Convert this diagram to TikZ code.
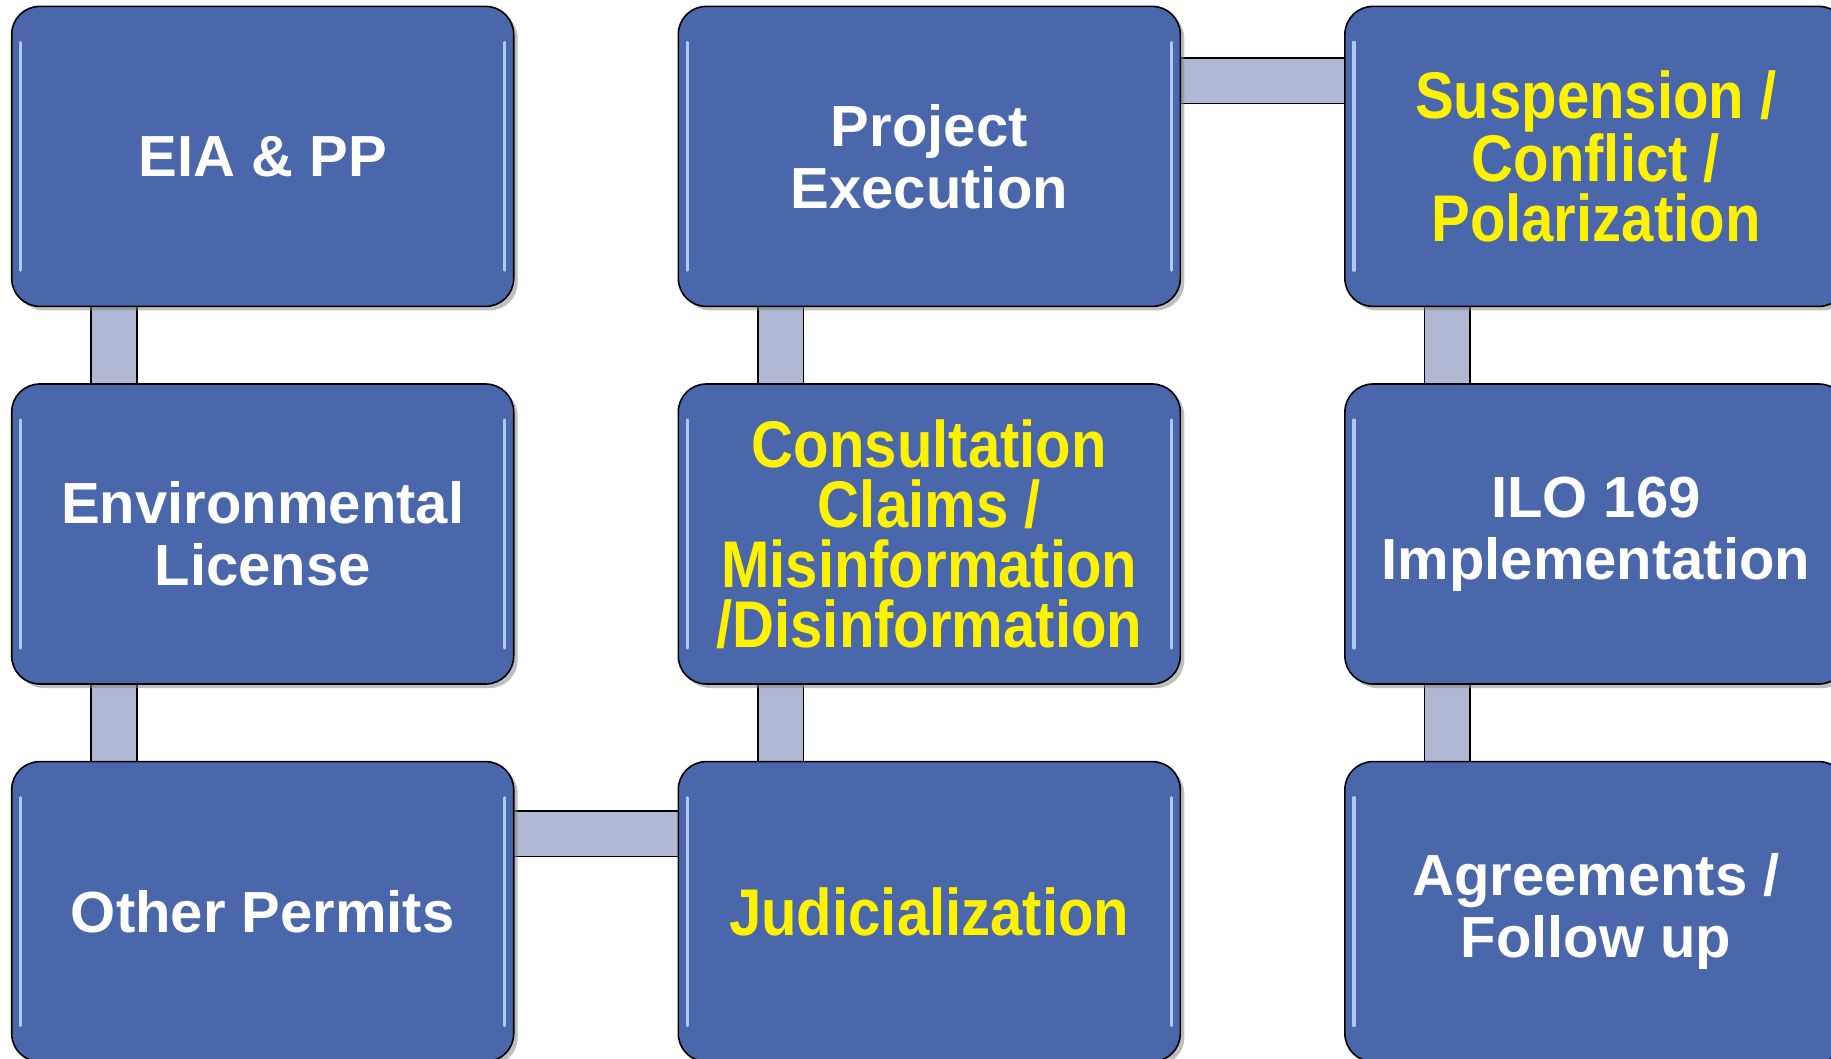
\documentclass[tikz,border=0pt]{standalone}
\usepackage{fontspec}
\setmainfont{Liberation Sans}
\newfontfamily\narrowfont{Liberation Sans}[FakeStretch=0.88]
\usetikzlibrary{positioning,shadows,backgrounds}
\definecolor{boxblue}{RGB}{73,103,170}
\definecolor{linkgray}{RGB}{176,184,212}
\definecolor{glossblue}{RGB}{178,200,242}

\begin{document}
\begin{tikzpicture}[x=0.5pt, y=-0.5pt,
    node distance=38pt and 81.5pt,
    stage/.style={rectangle, rounded corners=14pt, draw=black, line width=0.8pt,
        fill=boxblue, minimum width=251pt, minimum height=150pt, inner sep=0pt,
        align=center, text=white, font=\bfseries\fontsize{29}{31}\selectfont,
        drop shadow={shadow xshift=2pt, shadow yshift=-2pt, opacity=0.5},
        path picture={
            \draw[glossblue, line width=1.6pt, line cap=round]
                ([xshift=4.5pt,yshift=-18pt]path picture bounding box.north west) -- ([xshift=4.5pt,yshift=18pt]path picture bounding box.south west)
                ([xshift=-4.5pt,yshift=-18pt]path picture bounding box.north east) -- ([xshift=-4.5pt,yshift=18pt]path picture bounding box.south east);
        }},
    hot/.style={stage, text=yellow, font=\narrowfont\bfseries\fontsize{33}{30}\selectfont},
    link/.style={draw=black, line width=0.8pt, double=linkgray, double distance=22pt}]
    \useasboundingbox (0,0) rectangle (1831,1059);
    \node[stage] (eia) at (262.7,156.4) {EIA \& PP};
    \node[stage, below=of eia] (env) {Environmental\\License};
    \node[stage, below=of env] (other) {Other Permits};
    \node[stage, right=of eia] (exec) {Project\\Execution};
    \node[hot, below=of exec] (cons) {Consultation\\Claims /\\Misinformation\\/Disinformation};
    \node[hot, below=of cons] (jud) {Judicialization};
    \node[hot, right=of exec] (susp) {Suspension /\\Conflict /\\Polarization};
    \node[stage, below=of susp] (ilo) {ILO 169\\Implementation};
    \node[stage, below=of ilo] (agr) {Agreements /\\Follow up};
    \begin{scope}[on background layer]
        \draw[link] ([xshift=51.5pt]eia.south west) -- ([xshift=51.5pt]env.north west);
        \draw[link] ([xshift=51.5pt]env.south west) -- ([xshift=51.5pt]other.north west);
        \draw[link] ([yshift=-36.5pt]other.north east) -- ([yshift=-36.5pt]jud.north west);
        \draw[link] ([xshift=51.5pt]jud.north west) -- ([xshift=51.5pt]cons.south west);
        \draw[link] ([xshift=51.5pt]cons.north west) -- ([xshift=51.5pt]exec.south west);
        \draw[link] ([yshift=-37.5pt]exec.north east) -- ([yshift=-37.5pt]susp.north west);
        \draw[link] ([xshift=51.5pt]susp.south west) -- ([xshift=51.5pt]ilo.north west);
        \draw[link] ([xshift=51.5pt]ilo.south west) -- ([xshift=51.5pt]agr.north west);
    \end{scope}
\end{tikzpicture}
\end{document}
